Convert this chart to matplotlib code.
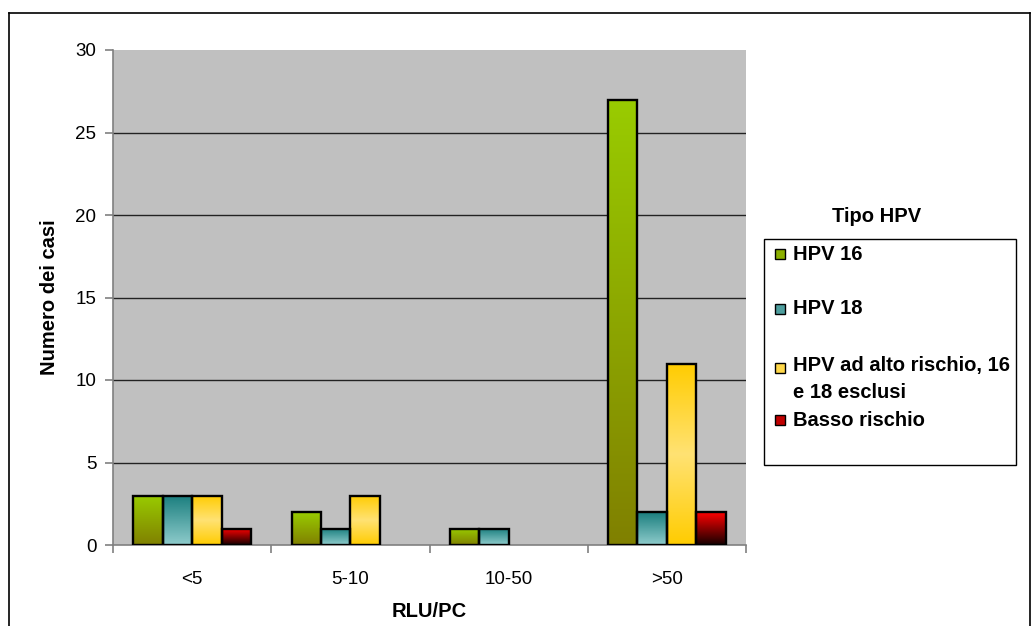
import numpy as np
import matplotlib
matplotlib.use("Agg")
import matplotlib.pyplot as plt
from matplotlib.patches import Rectangle
from matplotlib.lines import Line2D

categories = ["<5", "5-10", "10-50", ">50"]
series_names = ["HPV 16", "HPV 18", "HPV ad alto rischio, 16\ne 18 esclusi", "Basso rischio"]
hpv16 = [3, 2, 1, 27]
hpv18 = [3, 1, 1, 2]
alto_rischio = [3, 3, 0, 11]
basso_rischio = [1, 0, 0, 2]
yticks = [0, 5, 10, 15, 20, 25, 30]

series = [hpv16, hpv18, alto_rischio, basso_rischio]
# gradient stops (top -> bottom)
grads = [
    [(153, 204, 0), (128, 128, 0)],
    [(26, 126, 126), (143, 204, 204)],
    [(255, 204, 0), (255, 226, 115), (255, 204, 0)],
    [(255, 0, 0), (20, 0, 0)],
]
legend_cols = ["#8CB000", "#4E9E9E", "#FFD84A", "#C00000"]

plt.rcParams['font.family'] = ['Liberation Sans', 'DejaVu Sans']

fig = plt.figure(figsize=(10.34, 6.26), dpi=100)
fig.patch.set_facecolor("white")
ax = fig.add_axes([113/1034, 1-545/626, 633/1034, 495/626])
ax.set_facecolor("#C0C0C0")

def make_grad(stops, n=256):
    stops = np.array(stops, dtype=float) / 255.0
    t = np.linspace(0, 1, n)
    pos = np.linspace(0, 1, len(stops))
    arr = np.zeros((n, 1, 3))
    for c in range(3):
        arr[:, 0, c] = np.interp(t, pos, stops[:, c])
    return arr

x = np.arange(len(categories))
bw = 0.186
for i, (vals, st) in enumerate(zip(series, grads)):
    offs = (i - 1.5) * bw
    bars = ax.bar(x + offs, vals, width=bw, facecolor="none", edgecolor="black",
                  linewidth=1.7, zorder=4)
    img = make_grad(st)
    for b in bars:
        h = b.get_height()
        if h <= 0:
            b.set_visible(False)
            continue
        x0 = b.get_x()
        im = ax.imshow(img, extent=[x0, x0 + b.get_width(), 0, h], aspect='auto',
                       origin='upper', zorder=3, interpolation='bilinear')
        im.set_clip_path(b)

ax.set_xlim(-0.5, 3.5)
ax.set_ylim(0, 30)
ax.set_yticks(yticks)
ax.set_yticklabels([str(v) for v in yticks], fontsize=13.5)
for v in yticks[1:-1]:
    ax.axhline(v, color="#222222", linewidth=1.0, zorder=1)

ax.set_xticks(x)
ax.set_xticklabels(categories, fontsize=13.5)
ax.tick_params(axis='x', length=0, pad=19)
ax.set_xticks(np.arange(-0.5, 4.0, 1.0), minor=True)
ax.tick_params(axis='x', which='minor', length=6, color="#808080", width=1.2)
ax.tick_params(axis='y', length=6, color="#808080", width=1.2, pad=6)

for s in ["top", "right"]:
    ax.spines[s].set_visible(False)
for s in ["left", "bottom"]:
    ax.spines[s].set_color("#808080")
    ax.spines[s].set_linewidth(1.2)

ax.set_xlabel("RLU/PC", fontsize=14.5, fontweight='bold', labelpad=10)
ax.set_ylabel("Numero dei casi", fontsize=14.5, fontweight='bold', labelpad=12)

# legend (manual, Excel-like spacing)
W, H = 1034, 626
def fx(px): return px / W
def fy(py): return 1 - py / H

fig.add_artist(Rectangle((fx(764), fy(465)), fx(1016) - fx(764), fy(239) - fy(465),
                         transform=fig.transFigure, facecolor="white", edgecolor="black",
                         linewidth=1.0))
fig.text(fx(877), fy(216), "Tipo HPV", ha="center", va="center", fontsize=14.5, fontweight='bold')
ys = [254, 309, 368, 420]
for name, col, yy in zip(series_names, legend_cols, ys):
    fig.add_artist(Rectangle((fx(775), fy(yy + 5)), fx(10), 10 / H, transform=fig.transFigure,
                             facecolor=col, edgecolor="black", linewidth=1.0))
    if "\n" in name:
        fig.text(fx(793), fy(yy - 12), name, ha="left", va="top", fontsize=14.5,
                 fontweight='bold', linespacing=1.55)
    else:
        fig.text(fx(793), fy(yy), name, ha="left", va="center", fontsize=14.5, fontweight='bold')

# outer border
fig.add_artist(Line2D([fx(9), fx(9)], [0, fy(13)], transform=fig.transFigure, color="black", lw=1.2))
fig.add_artist(Line2D([fx(9), fx(1030)], [fy(13), fy(13)], transform=fig.transFigure, color="black", lw=1.2))
fig.add_artist(Line2D([fx(1030), fx(1030)], [0, fy(13)], transform=fig.transFigure, color="black", lw=1.2))

fig.savefig("out.png", dpi=100)
